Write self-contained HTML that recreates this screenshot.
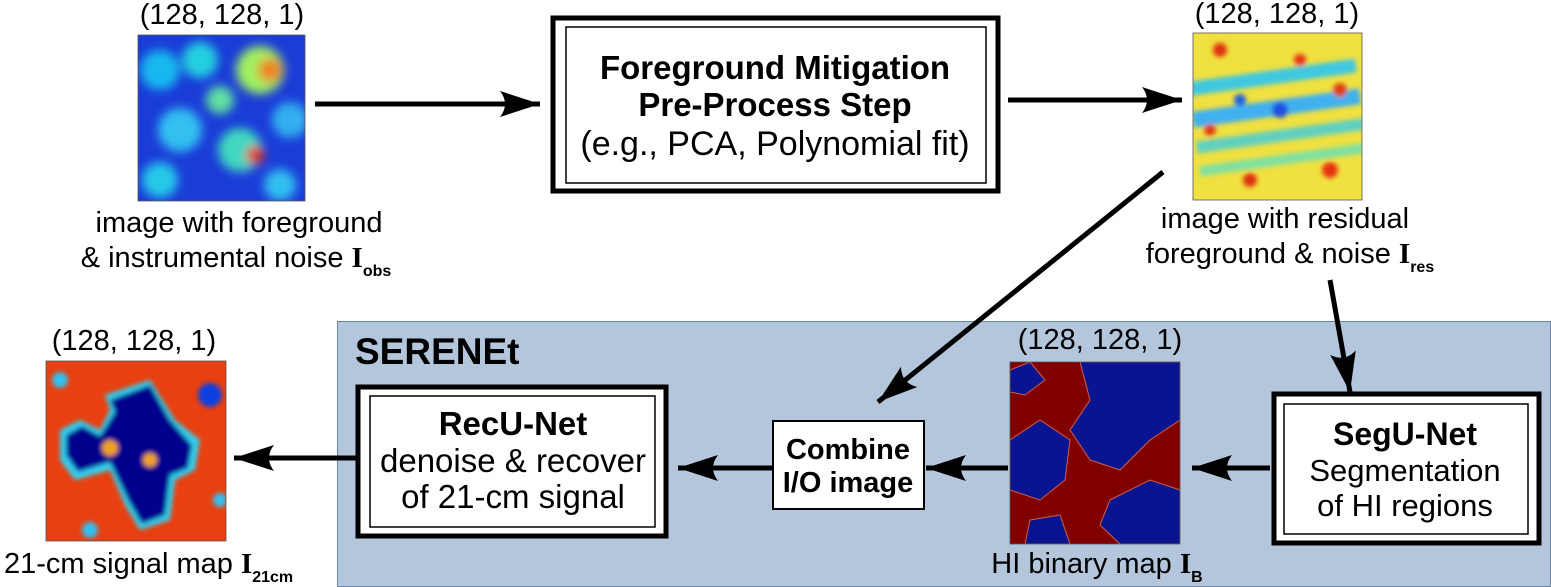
<!DOCTYPE html>
<html><head><meta charset="utf-8"><style>
body{margin:0;background:#fff;}
svg{display:block;font-family:"Liberation Sans",sans-serif;}
</style></head><body>
<svg width="1551" height="587" viewBox="0 0 1551 587" xmlns="http://www.w3.org/2000/svg">
<defs>
<marker id="ah" markerUnits="userSpaceOnUse" markerWidth="44" markerHeight="30" refX="40" refY="15" orient="auto">
<path d="M0,2 L40,15 L0,28 Q10,15 0,2 Z" fill="#000"/>
</marker>
<filter id="bl" x="-20%" y="-20%" width="140%" height="140%"><feGaussianBlur stdDeviation="5"/></filter>
<filter id="bl2"><feGaussianBlur stdDeviation="2.5"/></filter>
<clipPath id="c1"><rect x="138" y="35" width="167" height="166"/></clipPath>
<clipPath id="c2"><rect x="1193" y="33" width="169" height="167"/></clipPath>
<clipPath id="c3"><rect x="46" y="361" width="180" height="180"/></clipPath>
<clipPath id="c4"><rect x="1010" y="362" width="170" height="182"/></clipPath>
</defs>

<rect x="337.5" y="321.5" width="1213" height="265" fill="#b4c6dc" stroke="#6a86aa" stroke-width="1"/>
<text x="355" y="364" font-size="37" font-weight="bold">SERENEt</text>

<g clip-path="url(#c1)">
<rect x="138" y="35" width="167" height="166" fill="#1a3cd8"/>
<g filter="url(#bl)">
<circle cx="160" cy="70" r="20" fill="#18b8f0"/><circle cx="200" cy="60" r="18" fill="#22d0e0"/>
<circle cx="260" cy="70" r="24" fill="#a0f060"/><circle cx="270" cy="70" r="12" fill="#f08020"/>
<circle cx="180" cy="130" r="22" fill="#30c0f0"/><circle cx="240" cy="150" r="22" fill="#40d8c0"/>
<circle cx="255" cy="155" r="9" fill="#e83010"/><circle cx="290" cy="120" r="18" fill="#30b0f0"/>
<circle cx="160" cy="180" r="18" fill="#28c8e8"/><circle cx="220" cy="100" r="14" fill="#60e0a0"/>
<circle cx="280" cy="185" r="16" fill="#30c0f0"/>
</g></g>
<rect x="138" y="35" width="167" height="166" fill="none" stroke="#555" stroke-width="0.8"/>
<text x="222" y="24" font-size="29" text-anchor="middle">(128, 128, 1)</text>
<text x="239" y="232" font-size="29" text-anchor="middle">image with foreground</text>
<text x="236" y="267" font-size="29" text-anchor="middle">&amp; instrumental noise <tspan font-family="Liberation Serif" font-weight="bold">I</tspan><tspan font-size="16" font-weight="bold" dy="9">obs</tspan></text>

<rect x="553" y="18" width="445" height="173" fill="#fff" stroke="#000" stroke-width="5"/>
<rect x="566" y="27" width="420" height="156" fill="none" stroke="#000" stroke-width="1.5"/>
<text x="775" y="79" font-size="33" font-weight="bold" text-anchor="middle">Foreground Mitigation</text>
<text x="775" y="116" font-size="33" font-weight="bold" text-anchor="middle">Pre-Process Step</text>
<text x="775" y="155" font-size="34" text-anchor="middle">(e.g., PCA, Polynomial fit)</text>

<g clip-path="url(#c2)">
<rect x="1193" y="33" width="169" height="167" fill="#f0e040"/>
<g filter="url(#bl2)">
<rect x="1193" y="70" width="169" height="14" fill="#40c8e0" transform="rotate(-8 1277 116)"/>
<rect x="1193" y="100" width="169" height="16" fill="#40b0f0" transform="rotate(-8 1277 116)"/>
<rect x="1193" y="130" width="169" height="12" fill="#60d0c0" transform="rotate(-8 1277 116)"/>
<rect x="1193" y="155" width="169" height="10" fill="#80e0a0" transform="rotate(-8 1277 116)"/>
<circle cx="1220" cy="50" r="7" fill="#e03010"/><circle cx="1300" cy="60" r="6" fill="#e83010"/>
<circle cx="1340" cy="90" r="7" fill="#e04010"/><circle cx="1250" cy="180" r="7" fill="#e03010"/>
<circle cx="1330" cy="170" r="8" fill="#e83010"/><circle cx="1210" cy="130" r="6" fill="#e04010"/>
<circle cx="1280" cy="110" r="8" fill="#2050e0"/><circle cx="1240" cy="100" r="6" fill="#2060e0"/>
</g></g>
<rect x="1193" y="33" width="169" height="167" fill="none" stroke="#555" stroke-width="0.8"/>
<text x="1277" y="23" font-size="29" text-anchor="middle">(128, 128, 1)</text>
<text x="1285" y="228" font-size="29" text-anchor="middle">image with residual</text>
<text x="1290" y="263" font-size="29" text-anchor="middle">foreground &amp; noise <tspan font-family="Liberation Serif" font-weight="bold">I</tspan><tspan font-size="16" font-weight="bold" dy="9">res</tspan></text>

<g clip-path="url(#c3)">
<rect x="46" y="361" width="180" height="180" fill="#e84010"/>
<g filter="url(#bl2)">
<path d="M105,395 L150,380 L175,420 L200,440 L195,470 L175,480 L170,520 L140,530 L125,505 L110,470 L75,480 L60,460 L60,430 L80,420 L100,430 L110,410 Z" fill="#30d0f0"/>
<path d="M110,400 L150,385 L170,420 L192,445 L188,468 L170,475 L165,515 L142,524 L128,500 L110,462 L78,472 L66,455 L66,435 L82,426 L100,436 L115,412 Z" fill="#00008c"/>
<circle cx="110" cy="448" r="8" fill="#f0a020"/><circle cx="150" cy="460" r="7" fill="#f0a020"/>
<circle cx="210" cy="395" r="12" fill="#1040e0"/><circle cx="60" cy="380" r="8" fill="#30c0f0"/>
<circle cx="90" cy="530" r="8" fill="#30c0f0"/><circle cx="220" cy="500" r="7" fill="#30c0f0"/>
</g></g>
<rect x="46" y="361" width="180" height="180" fill="none" stroke="#555" stroke-width="0.8"/>
<text x="134" y="350" font-size="29" text-anchor="middle">(128, 128, 1)</text>
<text x="4" y="573" font-size="29">21-cm signal map <tspan font-family="Liberation Serif" font-weight="bold">I</tspan><tspan font-size="16" font-weight="bold" dy="9">21cm</tspan></text>

<rect x="358" y="387" width="308" height="149" fill="#fff" stroke="#000" stroke-width="5"/>
<rect x="370" y="396" width="285" height="131" fill="none" stroke="#000" stroke-width="1.5"/>
<text x="513" y="435" font-size="33" font-weight="bold" text-anchor="middle">RecU-Net</text>
<text x="513" y="472" font-size="33" text-anchor="middle">denoise &amp; recover</text>
<text x="513" y="508" font-size="33" text-anchor="middle">of 21-cm signal</text>

<rect x="773" y="421" width="151" height="88" fill="#fff" stroke="#000" stroke-width="2"/>
<text x="848" y="459" font-size="29" font-weight="bold" text-anchor="middle">Combine</text>
<text x="848" y="492" font-size="29" font-weight="bold" text-anchor="middle">I/O image</text>

<g clip-path="url(#c4)">
<rect x="1010" y="362" width="170" height="182" fill="#800000"/>
<g fill="#0a1490" stroke="#d06040" stroke-width="1">
<path d="M1080,362 L1180,362 L1180,420 L1150,440 L1120,470 L1090,460 L1070,430 L1090,400 Z"/>
<path d="M1010,440 L1040,420 L1070,440 L1065,480 L1040,500 L1010,490 Z"/>
<path d="M1110,500 L1150,480 L1180,490 L1180,544 L1120,544 L1100,525 Z"/>
<path d="M1010,370 L1030,362 L1045,380 L1025,395 L1010,392 Z"/>
<path d="M1030,520 L1060,515 L1070,544 L1025,544 Z"/>
</g></g>
<rect x="1010" y="362" width="170" height="182" fill="none" stroke="#555" stroke-width="0.8"/>
<text x="1100" y="349" font-size="29" text-anchor="middle">(128, 128, 1)</text>
<text x="1097" y="573" font-size="29" text-anchor="middle">HI binary map <tspan font-family="Liberation Serif" font-weight="bold">I</tspan><tspan font-size="16" font-weight="bold" dy="9">B</tspan></text>

<rect x="1274" y="394" width="265" height="149" fill="#fff" stroke="#000" stroke-width="5"/>
<rect x="1284" y="404" width="244" height="130" fill="none" stroke="#000" stroke-width="1.5"/>
<text x="1405" y="445" font-size="32" font-weight="bold" text-anchor="middle">SegU-Net</text>
<text x="1405" y="481" font-size="31" text-anchor="middle">Segmentation</text>
<text x="1405" y="516" font-size="31" text-anchor="middle">of HI regions</text>

<g stroke="#000" stroke-width="5" fill="none">
<line x1="315" y1="104" x2="540" y2="104" marker-end="url(#ah)"/>
<line x1="1008" y1="100" x2="1182" y2="100" marker-end="url(#ah)"/>
<line x1="1163" y1="172" x2="878" y2="402" marker-end="url(#ah)"/>
<line x1="1330" y1="280" x2="1350" y2="392" marker-end="url(#ah)"/>
<line x1="1270" y1="468" x2="1192" y2="468" marker-end="url(#ah)"/>
<line x1="1008" y1="468" x2="926" y2="468" marker-end="url(#ah)"/>
<line x1="772" y1="468" x2="678" y2="468" marker-end="url(#ah)"/>
<line x1="356" y1="458" x2="234" y2="458" marker-end="url(#ah)"/>
</g>
</svg>
</body></html>
